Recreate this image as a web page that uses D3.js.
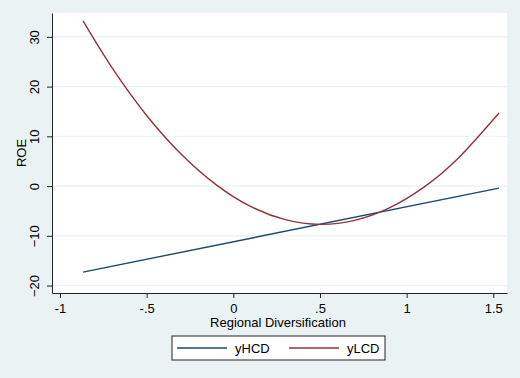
<!DOCTYPE html>
<html>
<head>
<meta charset="utf-8">
<script src="https://cdn.jsdelivr.net/npm/d3@7"></script>
<style>
  html, body { margin: 0; padding: 0; background: #eaf2f3; }
  svg { display: block; font-family: "Liberation Sans", Arial, sans-serif; }
</style>
</head>
<body>
<div id="chart"></div>
<script>
const width = 520;
const height = 378;
const margin = ({top: 13, right: 13, bottom: 85, left: 52});

const xTicks = [-1, -0.5, 0, 0.5, 1, 1.5];
const xTickLabels = ["-1", "-.5", "0", ".5", "1", "1.5"];
const yTicks = [-20, -10, 0, 10, 20, 30];
const seriesNames = ["yHCD", "yLCD"];
const seriesColors = ["#1a476f", "#90353b"];

const hcdX = [-0.867, 1.533];
const hcdY = [-17.3, -0.4];

const lcdX = [-0.867, -0.7, -0.5, -0.3, -0.1, 0.1, 0.3, 0.5, 0.7, 0.9, 1.1, 1.3, 1.533];
const lcdY = [33.2, 23.8, 14.2, 6.4, 0.3, -4.1, -6.75, -7.7, -6.9, -4.4, -0.2, 5.7, 14.7];

const x = d3.scaleLinear().domain([-1.046, 1.579]).range([margin.left, width - margin.right]);
const y = d3.scaleLinear().domain([-21.5, 34.8]).range([height - margin.bottom, margin.top]);

const svg = d3.select("#chart").append("svg")
	.attr("width", width)
	.attr("height", height);

svg.append("rect")
	.attr("width", width).attr("height", height)
	.attr("fill", "#eaf2f3");

// plot region
svg.append("rect")
	.attr("x", margin.left).attr("y", margin.top)
	.attr("width", width - margin.left - margin.right)
	.attr("height", height - margin.top - margin.bottom)
	.attr("fill", "#ffffff");

// gridlines
svg.append("g")
	.selectAll("line")
	.data(yTicks)
	.join("line")
		.attr("x1", margin.left).attr("x2", width - margin.right)
		.attr("y1", d => y(d)).attr("y2", d => y(d))
		.attr("stroke", "#eaf2f3")
		.attr("stroke-width", 1.2);

const line = d3.line()
	.x(d => x(d[0]))
	.y(d => y(d[1]));

svg.append("path")
	.datum(hcdX.map((v, i) => [v, hcdY[i]]))
	.attr("fill", "none")
	.attr("stroke", seriesColors[0])
	.attr("stroke-width", 1.4)
	.attr("d", line);

svg.append("path")
	.datum(lcdX.map((v, i) => [v, lcdY[i]]))
	.attr("fill", "none")
	.attr("stroke", seriesColors[1])
	.attr("stroke-width", 1.4)
	.attr("d", line.curve(d3.curveNatural));

// x axis
const xAxis = svg.append("g")
	.attr("transform", `translate(0,${height - margin.bottom})`)
	.call(d3.axisBottom(x).tickValues(xTicks).tickFormat((d, i) => xTickLabels[i]).tickSize(5).tickSizeOuter(0));
xAxis.select(".domain").attr("stroke", "#222");
xAxis.selectAll(".tick line").attr("stroke", "#222");
xAxis.selectAll(".tick text")
	.attr("fill", "#000")
	.attr("font-size", 13)
	.attr("font-family", "Liberation Sans, Arial, sans-serif")
	.attr("dy", "0.9em");

// y axis
const yAxis = svg.append("g")
	.attr("transform", `translate(${margin.left},0)`)
	.call(d3.axisLeft(y).tickValues(yTicks).tickSize(5).tickSizeOuter(0));
yAxis.select(".domain").attr("stroke", "#222");
yAxis.selectAll(".tick line").attr("stroke", "#222");
yAxis.selectAll(".tick text")
	.attr("fill", "#000")
	.attr("font-size", 13)
	.attr("font-family", "Liberation Sans, Arial, sans-serif")
	.attr("x", 0).attr("dy", 0)
	.attr("text-anchor", "middle")
	.attr("transform", "translate(-13,0) rotate(-90)");

// axis titles
svg.append("text")
	.attr("x", x(0.5) - 42)
	.attr("y", 327)
	.attr("text-anchor", "middle")
	.attr("font-size", 13)
	.text("Regional Diversification");

svg.append("text")
	.attr("transform", `translate(26,${(margin.top + height - margin.bottom) / 2}) rotate(-90)`)
	.attr("text-anchor", "middle")
	.attr("font-size", 13)
	.text("ROE");

// legend
const legend = svg.append("g").attr("transform", "translate(172,336)");
legend.append("rect")
	.attr("width", 213).attr("height", 24)
	.attr("fill", "#ffffff")
	.attr("stroke", "#222")
	.attr("stroke-width", 1);

const items = legend.selectAll("g.item")
	.data(seriesNames)
	.join("g")
		.attr("class", "item")
		.attr("transform", (d, i) => `translate(${5 + i * 112},12)`);
items.append("line")
	.attr("x1", 0).attr("x2", 50)
	.attr("stroke", (d, i) => seriesColors[i])
	.attr("stroke-width", 1.4);
items.append("text")
	.attr("x", 58).attr("dy", "0.36em")
	.attr("font-size", 13)
	.text(d => d);
</script>
</body>
</html>
